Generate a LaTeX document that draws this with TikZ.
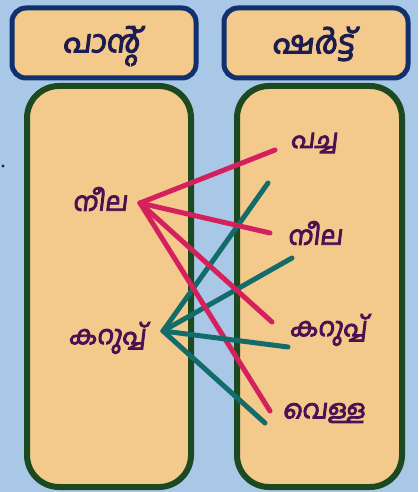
\documentclass[tikz,border=0pt]{standalone}
\usepackage{fontspec}
\newfontfamily\mal[Script=Malayalam,FakeSlant=0.12,FakeBold=3.5]{Hind Kochi}
\definecolor{bgblue}{HTML}{A9C8E8}
\definecolor{boxfill}{HTML}{F3CA8C}
\definecolor{navy}{HTML}{10306E}
\definecolor{dgreen}{HTML}{1B4A20}
\definecolor{txtnavy}{HTML}{1C1C50}
\definecolor{txtpurple}{HTML}{4A1252}
\definecolor{pinkline}{HTML}{D4215E}
\definecolor{tealline}{HTML}{136C6A}
\tikzset{
  headbox/.style={draw=navy, line width=5pt, fill=boxfill, rounded corners=14pt},
  colbox/.style={draw=dgreen, line width=6pt, fill=boxfill, rounded corners=32pt},
  headtxt/.style={font=\mal\fontsize{31}{35}\selectfont, text=txtnavy, inner sep=0pt},
  itemtxt/.style={font=\mal\fontsize{26}{30}\selectfont, text=txtpurple, inner sep=0pt},
  pinkcon/.style={draw=pinkline, line width=5pt, line cap=round},
  tealcon/.style={draw=tealline, line width=5pt, line cap=round}
}
\begin{document}
\begin{tikzpicture}[x=1pt,y=-1pt]
\fill[bgblue] (0,0) rectangle (418,492);
\useasboundingbox (0,0) rectangle (418,492);
% header boxes
\draw[headbox] (12,8) rectangle (196,78);
\draw[headbox] (224,8) rectangle (408,78);
\node[headtxt] (pant) at (101,46) {പാന്റ്};
\node[headtxt] (shirt) at (313,44) {ഷർട്ട്};
% column boxes
\draw[colbox] (27,86) rectangle (191,487);
\draw[colbox] (237,86) rectangle (402,487);
% dot at left edge
\fill[txtnavy] (3,166) circle (1.6);
% labels
\node[itemtxt] (lnila) at (100,199) {നീല};
\node[itemtxt] (lkar) at (107,338) {കറുപ്പ്};
\node[itemtxt] (rpach) at (314,143) {പച്ച};
\node[itemtxt] (rnila) at (315,233) {നീല};
\node[itemtxt] (rkar) at (328,330) {കറുപ്പ്};
\node[itemtxt] (rvel) at (324,413) {വെള്ള};
% connector anchors
\coordinate (pn) at (140,203);
\coordinate (tk) at (163,331);
\coordinate (p1) at (275,150);
\coordinate (p2) at (270,233);
\coordinate (p3) at (272,322);
\coordinate (p4) at (270,411);
\coordinate (t1) at (268,183);
\coordinate (t2) at (292,258);
\coordinate (t3) at (288,347);
\coordinate (t4) at (265,423);
% connectors
\draw[tealcon] (tk) -- (t1);
\draw[pinkcon] (pn) -- (p1);
\draw[pinkcon] (pn) -- (p2);
\draw[tealcon] (tk) -- (t2);
\draw[pinkcon] (pn) -- (p3);
\draw[pinkcon] (pn) -- (p4);
\draw[tealcon] (tk) -- (t3);
\draw[tealcon] (tk) -- (t4);
\end{tikzpicture}
\end{document}
